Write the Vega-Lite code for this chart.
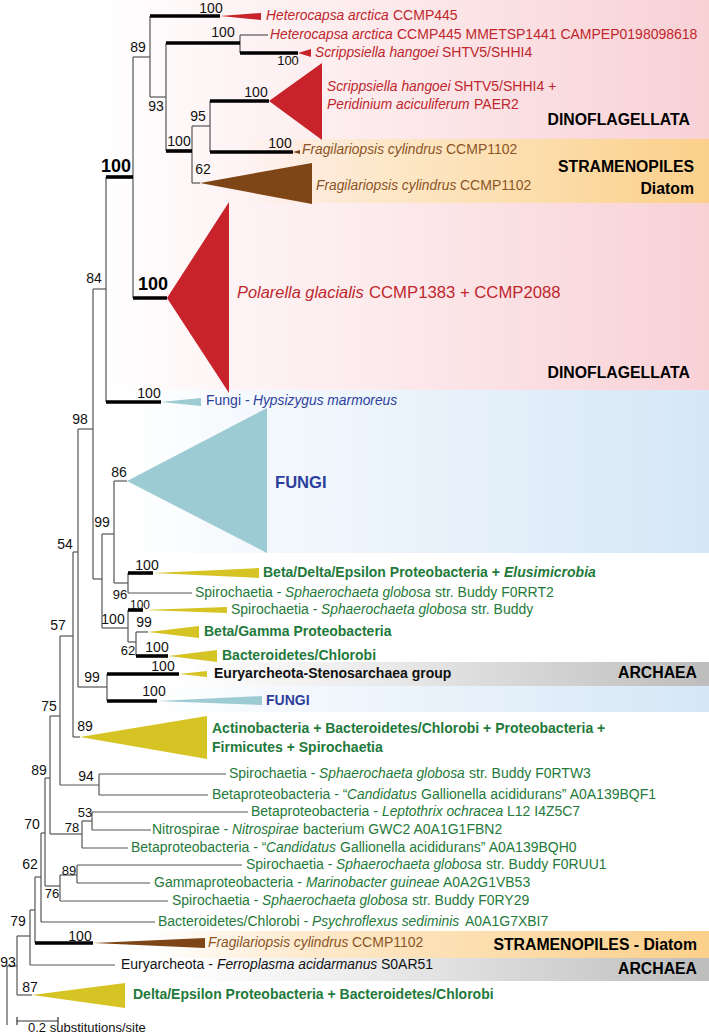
{
 "$schema": "https://vega.github.io/schema/vega-lite/v6.json",
 "width": 709, "height": 1036, "padding": 0, "autosize": {"type": "none"},
 "background": "white",
 "config": {"font": "Liberation Sans", "view": {"stroke": null}},
 "datasets": {
  "bands": [
   {"group": "dino", "x1": 100, "x2": 709, "y1": 0, "y2": 390},
   {"group": "diatom", "x1": 240, "x2": 709, "y1": 139, "y2": 203},
   {"group": "fungi", "x1": 120, "x2": 709, "y1": 390, "y2": 553},
   {"group": "archaea", "x1": 180, "x2": 709, "y1": 662, "y2": 686},
   {"group": "fungi", "x1": 150, "x2": 709, "y1": 686, "y2": 712},
   {"group": "diatom", "x1": 150, "x2": 709, "y1": 931, "y2": 958},
   {"group": "archaea", "x1": 180, "x2": 709, "y1": 958, "y2": 981}
  ],
  "branches": [
   {"x":150,"x2":220,"y":16,"y2":16,"strong":true},
   {"x":133,"x2":150,"y":57,"y2":57,"strong":false},
   {"x":150,"x2":166,"y":97,"y2":97,"strong":false},
   {"x":166,"x2":240,"y":43,"y2":43,"strong":true},
   {"x":240,"x2":268,"y":35,"y2":35,"strong":false},
   {"x":240,"x2":298,"y":53,"y2":53,"strong":true},
   {"x":166,"x2":192,"y":151,"y2":151,"strong":true},
   {"x":192,"x2":210,"y":126,"y2":126,"strong":false},
   {"x":210,"x2":269,"y":101,"y2":101,"strong":true},
   {"x":210,"x2":293,"y":152,"y2":152,"strong":true},
   {"x":192,"x2":200,"y":183,"y2":183,"strong":false},
   {"x":106,"x2":133,"y":177,"y2":177,"strong":true},
   {"x":133,"x2":167,"y":298,"y2":298,"strong":true},
   {"x":93,"x2":106,"y":289,"y2":289,"strong":false},
   {"x":106,"x2":161,"y":402,"y2":402,"strong":true},
   {"x":78,"x2":93,"y":429,"y2":429,"strong":false},
   {"x":114,"x2":127,"y":481,"y2":481,"strong":false},
   {"x":102,"x2":114,"y":534,"y2":534,"strong":false},
   {"x":93,"x2":102,"y":579,"y2":579,"strong":false},
   {"x":114,"x2":128,"y":583,"y2":583,"strong":false},
   {"x":128,"x2":153,"y":573,"y2":573,"strong":true},
   {"x":128,"x2":192,"y":593,"y2":593,"strong":false},
   {"x":102,"x2":128,"y":628,"y2":628,"strong":false},
   {"x":128,"x2":143,"y":610,"y2":610,"strong":true},
   {"x":128,"x2":136,"y":642,"y2":642,"strong":false},
   {"x":136,"x2":148,"y":632,"y2":632,"strong":false},
   {"x":136,"x2":168,"y":656,"y2":656,"strong":true},
   {"x":73,"x2":78,"y":552,"y2":552,"strong":false},
   {"x":78,"x2":107,"y":687,"y2":687,"strong":false},
   {"x":107,"x2":179,"y":674,"y2":674,"strong":true},
   {"x":107,"x2":157,"y":701,"y2":701,"strong":true},
   {"x":73,"x2":80,"y":737,"y2":737,"strong":false},
   {"x":60,"x2":73,"y":636,"y2":636,"strong":false},
   {"x":50,"x2":60,"y":716,"y2":716,"strong":false},
   {"x":60,"x2":99,"y":785,"y2":785,"strong":false},
   {"x":99,"x2":226,"y":774,"y2":774,"strong":false},
   {"x":99,"x2":208,"y":795,"y2":795,"strong":false},
   {"x":45,"x2":50,"y":778,"y2":778,"strong":false},
   {"x":50,"x2":82,"y":834,"y2":834,"strong":false},
   {"x":82,"x2":92,"y":821,"y2":821,"strong":false},
   {"x":92,"x2":248,"y":812,"y2":812,"strong":false},
   {"x":92,"x2":151,"y":830,"y2":830,"strong":false},
   {"x":82,"x2":128,"y":848,"y2":848,"strong":false},
   {"x":41,"x2":45,"y":833,"y2":833,"strong":false},
   {"x":41,"x2":155,"y":922,"y2":922,"strong":false},
   {"x":45,"x2":60,"y":886,"y2":886,"strong":false},
   {"x":60,"x2":77,"y":875,"y2":875,"strong":false},
   {"x":77,"x2":242,"y":865,"y2":865,"strong":false},
   {"x":77,"x2":150,"y":883,"y2":883,"strong":false},
   {"x":60,"x2":168,"y":901,"y2":901,"strong":false},
   {"x":35,"x2":41,"y":877,"y2":877,"strong":false},
   {"x":35,"x2":93,"y":943,"y2":943,"strong":true},
   {"x":30,"x2":35,"y":910,"y2":910,"strong":false},
   {"x":30,"x2":115,"y":965,"y2":965,"strong":false},
   {"x":17,"x2":30,"y":936,"y2":936,"strong":false},
   {"x":17,"x2":32,"y":995,"y2":995,"strong":false},
   {"x":7,"x2":17,"y":966,"y2":966,"strong":false},
   {"x":150,"x2":150,"y":16,"y2":97,"strong":false},
   {"x":166,"x2":166,"y":43,"y2":151,"strong":false},
   {"x":240,"x2":240,"y":35,"y2":53,"strong":false},
   {"x":192,"x2":192,"y":126,"y2":183,"strong":false},
   {"x":210,"x2":210,"y":101,"y2":152,"strong":false},
   {"x":133,"x2":133,"y":57,"y2":298,"strong":false},
   {"x":106,"x2":106,"y":177,"y2":402,"strong":false},
   {"x":93,"x2":93,"y":289,"y2":579,"strong":false},
   {"x":102,"x2":102,"y":534,"y2":628,"strong":false},
   {"x":114,"x2":114,"y":481,"y2":583,"strong":false},
   {"x":128,"x2":128,"y":573,"y2":593,"strong":false},
   {"x":128,"x2":128,"y":610,"y2":642,"strong":false},
   {"x":136,"x2":136,"y":632,"y2":656,"strong":false},
   {"x":78,"x2":78,"y":429,"y2":687,"strong":false},
   {"x":107,"x2":107,"y":674,"y2":701,"strong":false},
   {"x":73,"x2":73,"y":552,"y2":737,"strong":false},
   {"x":60,"x2":60,"y":636,"y2":785,"strong":false},
   {"x":99,"x2":99,"y":774,"y2":795,"strong":false},
   {"x":50,"x2":50,"y":716,"y2":834,"strong":false},
   {"x":82,"x2":82,"y":821,"y2":848,"strong":false},
   {"x":92,"x2":92,"y":812,"y2":830,"strong":false},
   {"x":45,"x2":45,"y":778,"y2":886,"strong":false},
   {"x":41,"x2":41,"y":833,"y2":922,"strong":false},
   {"x":60,"x2":60,"y":875,"y2":901,"strong":false},
   {"x":77,"x2":77,"y":865,"y2":883,"strong":false},
   {"x":35,"x2":35,"y":877,"y2":943,"strong":false},
   {"x":30,"x2":30,"y":910,"y2":965,"strong":false},
   {"x":17,"x2":17,"y":936,"y2":995,"strong":false},
   {"x":7,"x2":7,"y":966,"y2":1025,"strong":false}
  ],
  "clades": [
   {"clade":"Heterocapsa","kingdom":"dino","x":220,"ya":16,"yb":16},{"clade":"Heterocapsa","kingdom":"dino","x":261,"ya":13,"yb":20},
   {"clade":"Scripp1","kingdom":"dino","x":298,"ya":53,"yb":53},{"clade":"Scripp1","kingdom":"dino","x":311,"ya":49,"yb":57},
   {"clade":"ScrippPerid","kingdom":"dino","x":269,"ya":101,"yb":101},{"clade":"ScrippPerid","kingdom":"dino","x":322,"ya":63,"yb":140},
   {"clade":"Frag1","kingdom":"diatom","x":293,"ya":152,"yb":152},{"clade":"Frag1","kingdom":"diatom","x":300,"ya":150,"yb":154},
   {"clade":"Frag2","kingdom":"diatom","x":200,"ya":183,"yb":183},{"clade":"Frag2","kingdom":"diatom","x":312,"ya":163,"yb":204},
   {"clade":"Polarella","kingdom":"dino","x":167,"ya":298,"yb":298},{"clade":"Polarella","kingdom":"dino","x":229,"ya":202,"yb":393},
   {"clade":"Hypsizygus","kingdom":"fungi","x":161,"ya":402,"yb":402},{"clade":"Hypsizygus","kingdom":"fungi","x":201,"ya":398,"yb":406},
   {"clade":"Fungi","kingdom":"fungi","x":127,"ya":481,"yb":481},{"clade":"Fungi","kingdom":"fungi","x":267,"ya":408,"yb":553},
   {"clade":"BetaDelta","kingdom":"prokaryote","x":153,"ya":573,"yb":573},{"clade":"BetaDelta","kingdom":"prokaryote","x":259,"ya":568,"yb":578},
   {"clade":"SpiroBuddy","kingdom":"prokaryote","x":143,"ya":610,"yb":610},{"clade":"SpiroBuddy","kingdom":"prokaryote","x":227,"ya":607,"yb":613},
   {"clade":"BetaGamma","kingdom":"prokaryote","x":148,"ya":632,"yb":632},{"clade":"BetaGamma","kingdom":"prokaryote","x":199,"ya":626,"yb":638},
   {"clade":"Bacteroidetes","kingdom":"prokaryote","x":168,"ya":656,"yb":656},{"clade":"Bacteroidetes","kingdom":"prokaryote","x":217,"ya":650,"yb":662},
   {"clade":"EuryStenos","kingdom":"prokaryote","x":179,"ya":674,"yb":674},{"clade":"EuryStenos","kingdom":"prokaryote","x":207,"ya":671,"yb":677},
   {"clade":"Fungi2","kingdom":"fungi","x":157,"ya":701,"yb":701},{"clade":"Fungi2","kingdom":"fungi","x":262,"ya":696,"yb":705},
   {"clade":"Actino","kingdom":"prokaryote","x":80,"ya":737,"yb":737},{"clade":"Actino","kingdom":"prokaryote","x":207,"ya":716,"yb":759},
   {"clade":"Frag3","kingdom":"diatom","x":93,"ya":943,"yb":943},{"clade":"Frag3","kingdom":"diatom","x":205,"ya":938,"yb":948},
   {"clade":"DeltaEps","kingdom":"prokaryote","x":32,"ya":995,"yb":995},{"clade":"DeltaEps","kingdom":"prokaryote","x":125,"ya":983,"yb":1008}
  ],
  "labels": [
   {"x":266,"y":16,"text":"Heterocapsa arctica","group":"dino","style":"italic","emph":"tip"},
   {"x":393,"y":16,"text":"CCMP445","group":"dino","style":"plain","emph":"tip"},
   {"x":270,"y":35,"text":"Heterocapsa arctica","group":"dino","style":"italic","emph":"tip"},
   {"x":397,"y":35,"text":"CCMP445 MMETSP1441 CAMPEP0198098618","group":"dino","style":"plain","emph":"tip"},
   {"x":315,"y":53,"text":"Scrippsiella hangoei","group":"dino","style":"italic","emph":"tip"},
   {"x":442,"y":53,"text":"SHTV5/SHHI4","group":"dino","style":"plain","emph":"tip"},
   {"x":327,"y":87,"text":"Scrippsiella hangoei","group":"dino","style":"italic","emph":"tip"},
   {"x":454,"y":87,"text":"SHTV5/SHHI4 +","group":"dino","style":"plain","emph":"tip"},
   {"x":327,"y":105,"text":"Peridinium aciculiferum","group":"dino","style":"italic","emph":"tip"},
   {"x":474,"y":105,"text":"PAER2","group":"dino","style":"plain","emph":"tip"},
   {"x":302,"y":150,"text":"Fragilariopsis cylindrus","group":"diatom","style":"italic","emph":"tip"},
   {"x":446,"y":150,"text":"CCMP1102","group":"diatom","style":"plain","emph":"tip"},
   {"x":316,"y":186,"text":"Fragilariopsis cylindrus","group":"diatom","style":"italic","emph":"tip"},
   {"x":460,"y":186,"text":"CCMP1102","group":"diatom","style":"plain","emph":"tip"},
   {"x":237,"y":293,"text":"Polarella glacialis","group":"dino","style":"italic","emph":"big"},
   {"x":369,"y":293,"text":"CCMP1383 + CCMP2088","group":"dino","style":"plain","emph":"big"},
   {"x":206,"y":401,"text":"Fungi -","group":"fungi","style":"plain","emph":"tip"},
   {"x":253,"y":401,"text":"Hypsizygus marmoreus","group":"fungi","style":"italic","emph":"tip"},
   {"x":275,"y":483,"text":"FUNGI","group":"fungi","style":"bold","emph":"big"},
   {"x":263,"y":573,"text":"Beta/Delta/Epsilon Proteobacteria +","group":"bacteria","style":"bold","emph":"tip"},
   {"x":504,"y":573,"text":"Elusimicrobia","group":"bacteria","style":"bolditalic","emph":"tip"},
   {"x":195,"y":593,"text":"Spirochaetia -","group":"bacteria","style":"plain","emph":"tip"},
   {"x":285,"y":593,"text":"Sphaerochaeta globosa","group":"bacteria","style":"italic","emph":"tip"},
   {"x":435,"y":593,"text":"str. Buddy F0RRT2","group":"bacteria","style":"plain","emph":"tip"},
   {"x":231,"y":610,"text":"Spirochaetia -","group":"bacteria","style":"plain","emph":"tip"},
   {"x":321,"y":610,"text":"Sphaerochaeta globosa","group":"bacteria","style":"italic","emph":"tip"},
   {"x":471,"y":610,"text":"str. Buddy","group":"bacteria","style":"plain","emph":"tip"},
   {"x":204,"y":632,"text":"Beta/Gamma Proteobacteria","group":"bacteria","style":"bold","emph":"tip"},
   {"x":222,"y":656,"text":"Bacteroidetes/Chlorobi","group":"bacteria","style":"bold","emph":"tip"},
   {"x":214,"y":674,"text":"Euryarcheota-Stenosarchaea group","group":"archaea","style":"bold","emph":"tip"},
   {"x":266,"y":701,"text":"FUNGI","group":"fungi","style":"bold","emph":"tip"},
   {"x":212,"y":729,"text":"Actinobacteria + Bacteroidetes/Chlorobi + Proteobacteria +","group":"bacteria","style":"bold","emph":"tip"},
   {"x":212,"y":748,"text":"Firmicutes + Spirochaetia","group":"bacteria","style":"bold","emph":"tip"},
   {"x":229,"y":774,"text":"Spirochaetia -","group":"bacteria","style":"plain","emph":"tip"},
   {"x":319,"y":774,"text":"Sphaerochaeta globosa","group":"bacteria","style":"italic","emph":"tip"},
   {"x":469,"y":774,"text":"str. Buddy F0RTW3","group":"bacteria","style":"plain","emph":"tip"},
   {"x":212,"y":795,"text":"Betaproteobacteria - “","group":"bacteria","style":"plain","emph":"tip"},
   {"x":347,"y":795,"text":"Candidatus","group":"bacteria","style":"italic","emph":"tip"},
   {"x":421,"y":795,"text":"Gallionella acididurans” A0A139BQF1","group":"bacteria","style":"plain","emph":"tip"},
   {"x":251,"y":812,"text":"Betaproteobacteria -","group":"bacteria","style":"plain","emph":"tip"},
   {"x":382,"y":812,"text":"Leptothrix ochracea","group":"bacteria","style":"italic","emph":"tip"},
   {"x":507,"y":812,"text":"L12 I4Z5C7","group":"bacteria","style":"plain","emph":"tip"},
   {"x":152,"y":830,"text":"Nitrospirae -","group":"bacteria","style":"plain","emph":"tip"},
   {"x":232,"y":830,"text":"Nitrospirae","group":"bacteria","style":"italic","emph":"tip"},
   {"x":303,"y":830,"text":"bacterium GWC2 A0A1G1FBN2","group":"bacteria","style":"plain","emph":"tip"},
   {"x":131,"y":848,"text":"Betaproteobacteria - “","group":"bacteria","style":"plain","emph":"tip"},
   {"x":266,"y":848,"text":"Candidatus","group":"bacteria","style":"italic","emph":"tip"},
   {"x":340,"y":848,"text":"Gallionella acididurans” A0A139BQH0","group":"bacteria","style":"plain","emph":"tip"},
   {"x":246,"y":865,"text":"Spirochaetia -","group":"bacteria","style":"plain","emph":"tip"},
   {"x":336,"y":865,"text":"Sphaerochaeta globosa","group":"bacteria","style":"italic","emph":"tip"},
   {"x":486,"y":865,"text":"str. Buddy F0RUU1","group":"bacteria","style":"plain","emph":"tip"},
   {"x":154,"y":883,"text":"Gammaproteobacteria -","group":"bacteria","style":"plain","emph":"tip"},
   {"x":306,"y":883,"text":"Marinobacter guineae","group":"bacteria","style":"italic","emph":"tip"},
   {"x":443,"y":883,"text":"A0A2G1VB53","group":"bacteria","style":"plain","emph":"tip"},
   {"x":172,"y":901,"text":"Spirochaetia -","group":"bacteria","style":"plain","emph":"tip"},
   {"x":262,"y":901,"text":"Sphaerochaeta globosa","group":"bacteria","style":"italic","emph":"tip"},
   {"x":412,"y":901,"text":"str. Buddy F0RY29","group":"bacteria","style":"plain","emph":"tip"},
   {"x":158,"y":922,"text":"Bacteroidetes/Chlorobi -","group":"bacteria","style":"plain","emph":"tip"},
   {"x":312,"y":922,"text":"Psychroflexus sediminis","group":"bacteria","style":"italic","emph":"tip"},
   {"x":465,"y":922,"text":"A0A1G7XBI7","group":"bacteria","style":"plain","emph":"tip"},
   {"x":208,"y":943,"text":"Fragilariopsis cylindrus","group":"diatom","style":"italic","emph":"tip"},
   {"x":352,"y":943,"text":"CCMP1102","group":"diatom","style":"plain","emph":"tip"},
   {"x":121,"y":965,"text":"Euryarcheota -","group":"archaea","style":"plain","emph":"tip"},
   {"x":217,"y":965,"text":"Ferroplasma acidarmanus","group":"archaea","style":"italic","emph":"tip"},
   {"x":381,"y":965,"text":"S0AR51","group":"archaea","style":"plain","emph":"tip"},
   {"x":133,"y":995,"text":"Delta/Epsilon Proteobacteria + Bacteroidetes/Chlorobi","group":"bacteria","style":"bold","emph":"tip"}
  ],
  "support": [
   {"x":211,"y":9,"value":"100","cls":"n"},
   {"x":223,"y":33,"value":"100","cls":"n"},
   {"x":288,"y":61,"value":"100","cls":"s"},
   {"x":138,"y":48,"value":"89","cls":"n"},
   {"x":156,"y":107,"value":"93","cls":"n"},
   {"x":256,"y":93,"value":"100","cls":"n"},
   {"x":198,"y":117,"value":"95","cls":"n"},
   {"x":179,"y":142,"value":"100","cls":"n"},
   {"x":280,"y":144,"value":"100","cls":"n"},
   {"x":203,"y":170,"value":"62","cls":"n"},
   {"x":116,"y":167,"value":"100","cls":"b"},
   {"x":94,"y":279,"value":"84","cls":"n"},
   {"x":153,"y":285,"value":"100","cls":"b"},
   {"x":149,"y":394,"value":"100","cls":"n"},
   {"x":80,"y":420,"value":"98","cls":"n"},
   {"x":119,"y":473,"value":"86","cls":"n"},
   {"x":102,"y":523,"value":"99","cls":"n"},
   {"x":65,"y":545,"value":"54","cls":"n"},
   {"x":147,"y":566,"value":"100","cls":"n"},
   {"x":120,"y":595,"value":"96","cls":"s"},
   {"x":140,"y":605,"value":"100","cls":"t"},
   {"x":113,"y":620,"value":"100","cls":"n"},
   {"x":144,"y":623,"value":"99","cls":"n"},
   {"x":128,"y":651,"value":"62","cls":"s"},
   {"x":157,"y":648,"value":"100","cls":"n"},
   {"x":58,"y":626,"value":"57","cls":"n"},
   {"x":92,"y":678,"value":"99","cls":"n"},
   {"x":163,"y":667,"value":"100","cls":"n"},
   {"x":154,"y":692,"value":"100","cls":"n"},
   {"x":85,"y":727,"value":"89","cls":"n"},
   {"x":49,"y":707,"value":"75","cls":"n"},
   {"x":86,"y":777,"value":"94","cls":"n"},
   {"x":39,"y":771,"value":"89","cls":"n"},
   {"x":85,"y":813,"value":"53","cls":"s"},
   {"x":72,"y":828,"value":"78","cls":"s"},
   {"x":32,"y":825,"value":"70","cls":"n"},
   {"x":69,"y":871,"value":"89","cls":"s"},
   {"x":52,"y":894,"value":"76","cls":"s"},
   {"x":30,"y":865,"value":"62","cls":"n"},
   {"x":18,"y":922,"value":"79","cls":"n"},
   {"x":80,"y":937,"value":"100","cls":"n"},
   {"x":8,"y":963,"value":"93","cls":"n"},
   {"x":30,"y":988,"value":"87","cls":"n"}
  ],
  "headers": [
   {"x":690,"y":120,"text":"DINOFLAGELLATA"},
   {"x":694,"y":167,"text":"STRAMENOPILES"},
   {"x":694,"y":189,"text":"Diatom"},
   {"x":690,"y":373,"text":"DINOFLAGELLATA"},
   {"x":697,"y":673,"text":"ARCHAEA"},
   {"x":697,"y":945,"text":"STRAMENOPILES - Diatom"},
   {"x":697,"y":969,"text":"ARCHAEA"}
  ],
  "scalebar": [
   {"x":17,"x2":58,"y":1021,"y2":1021},
   {"x":17,"x2":17,"y":1017,"y2":1025},
   {"x":58,"x2":58,"y":1017,"y2":1025}
  ],
  "scaletext": [
   {"x":28,"y":1028,"text":"0.2 substitutions/site"}
  ]
 },
 "layer": [
  {"data":{"name":"bands"},"transform":[{"filter":"datum.group==='dino'"}],
   "mark":{"type":"rect","fill":{"gradient":"linear","x1":0,"y1":0,"x2":1,"y2":0,"stops":[{"offset":0,"color":"rgba(252,232,235,0)"},{"offset":0.4,"color":"#fdedef"},{"offset":1,"color":"#f8d1d5"}]}},
   "encoding":{"x":{"field":"x1","type":"quantitative","scale":{"domain":[0,709],"nice":false,"zero":false},"axis":null},"x2":{"field":"x2"},
     "y":{"field":"y1","type":"quantitative","scale":{"domain":[0,1036],"nice":false,"zero":false,"reverse":true},"axis":null},"y2":{"field":"y2"}}},
  {"data":{"name":"bands"},"transform":[{"filter":"datum.group==='fungi'"}],
   "mark":{"type":"rect","fill":{"gradient":"linear","x1":0,"y1":0,"x2":1,"y2":0,"stops":[{"offset":0,"color":"rgba(235,243,251,0)"},{"offset":0.4,"color":"#eef5fc"},{"offset":1,"color":"#d5e7f6"}]}},
   "encoding":{"x":{"field":"x1","type":"quantitative","scale":{"domain":[0,709],"nice":false,"zero":false},"axis":null},"x2":{"field":"x2"},
     "y":{"field":"y1","type":"quantitative","scale":{"domain":[0,1036],"nice":false,"zero":false,"reverse":true},"axis":null},"y2":{"field":"y2"}}},
  {"data":{"name":"bands"},"transform":[{"filter":"datum.group==='diatom'"}],
   "mark":{"type":"rect","fill":{"gradient":"linear","x1":0,"y1":0,"x2":1,"y2":0,"stops":[{"offset":0,"color":"rgba(253,233,205,0)"},{"offset":0.3,"color":"#fde8c9"},{"offset":1,"color":"#fbd08a"}]}},
   "encoding":{"x":{"field":"x1","type":"quantitative","scale":{"domain":[0,709],"nice":false,"zero":false},"axis":null},"x2":{"field":"x2"},
     "y":{"field":"y1","type":"quantitative","scale":{"domain":[0,1036],"nice":false,"zero":false,"reverse":true},"axis":null},"y2":{"field":"y2"}}},
  {"data":{"name":"bands"},"transform":[{"filter":"datum.group==='archaea'"}],
   "mark":{"type":"rect","fill":{"gradient":"linear","x1":0,"y1":0,"x2":1,"y2":0,"stops":[{"offset":0,"color":"rgba(235,235,235,0)"},{"offset":0.35,"color":"#ececec"},{"offset":1,"color":"#bdbdbd"}]}},
   "encoding":{"x":{"field":"x1","type":"quantitative","scale":{"domain":[0,709],"nice":false,"zero":false},"axis":null},"x2":{"field":"x2"},
     "y":{"field":"y1","type":"quantitative","scale":{"domain":[0,1036],"nice":false,"zero":false,"reverse":true},"axis":null},"y2":{"field":"y2"}}},
  {"data":{"name":"clades"},
   "mark":{"type":"area","opacity":1,"strokeWidth":0,"interpolate":"linear"},
   "encoding":{"x":{"field":"x","type":"quantitative","scale":{"domain":[0,709],"nice":false,"zero":false},"axis":null},
     "y":{"field":"ya","type":"quantitative","stack":null,"scale":{"domain":[0,1036],"nice":false,"zero":false,"reverse":true},"axis":null},"y2":{"field":"yb"},
     "detail":{"field":"clade"},
     "color":{"field":"kingdom","type":"nominal","scale":{"domain":["dino","diatom","fungi","prokaryote"],"range":["#c8232b","#7e4516","#9dcbd3","#d6c424"]},"legend":null}}},
  {"data":{"name":"branches"},"transform":[{"filter":"!datum.strong"}],
   "mark":{"type":"rule","color":"#555555","strokeWidth":1.2},
   "encoding":{"x":{"field":"x","type":"quantitative","scale":{"domain":[0,709],"nice":false,"zero":false},"axis":null},"x2":{"field":"x2"},
     "y":{"field":"y","type":"quantitative","scale":{"domain":[0,1036],"nice":false,"zero":false,"reverse":true},"axis":null},"y2":{"field":"y2"}}},
  {"data":{"name":"branches"},"transform":[{"filter":"datum.strong"}],
   "mark":{"type":"rule","color":"#000000","strokeWidth":3.6},
   "encoding":{"x":{"field":"x","type":"quantitative","scale":{"domain":[0,709],"nice":false,"zero":false},"axis":null},"x2":{"field":"x2"},
     "y":{"field":"y","type":"quantitative","scale":{"domain":[0,1036],"nice":false,"zero":false,"reverse":true},"axis":null},"y2":{"field":"y2"}}},
  {"data":{"name":"labels"},"transform":[{"filter":"datum.style==='plain'"}],
   "mark":{"type":"text","align":"left","baseline":"middle"},
   "encoding":{"x":{"field":"x","type":"quantitative","scale":{"domain":[0,709],"nice":false,"zero":false},"axis":null},
     "y":{"field":"y","type":"quantitative","scale":{"domain":[0,1036],"nice":false,"zero":false,"reverse":true},"axis":null},
     "text":{"field":"text"},
     "color":{"field":"group","type":"nominal","scale":{"domain":["dino","diatom","fungi","bacteria","archaea"],"range":["#bf272d","#8c5526","#2c3f9c","#1f7a3b","#111111"]},"legend":null},
     "size":{"field":"emph","type":"ordinal","scale":{"domain":["tip","big"],"range":[14,16.7]},"legend":null}}},
  {"data":{"name":"labels"},"transform":[{"filter":"datum.style==='italic'"}],
   "mark":{"type":"text","align":"left","baseline":"middle","fontStyle":"italic"},
   "encoding":{"x":{"field":"x","type":"quantitative","scale":{"domain":[0,709],"nice":false,"zero":false},"axis":null},
     "y":{"field":"y","type":"quantitative","scale":{"domain":[0,1036],"nice":false,"zero":false,"reverse":true},"axis":null},
     "text":{"field":"text"},
     "color":{"field":"group","type":"nominal","scale":{"domain":["dino","diatom","fungi","bacteria","archaea"],"range":["#bf272d","#8c5526","#2c3f9c","#1f7a3b","#111111"]},"legend":null},
     "size":{"field":"emph","type":"ordinal","scale":{"domain":["tip","big"],"range":[13.8,16.4]},"legend":null}}},
  {"data":{"name":"labels"},"transform":[{"filter":"datum.style==='bold'"}],
   "mark":{"type":"text","align":"left","baseline":"middle","fontWeight":"bold"},
   "encoding":{"x":{"field":"x","type":"quantitative","scale":{"domain":[0,709],"nice":false,"zero":false},"axis":null},
     "y":{"field":"y","type":"quantitative","scale":{"domain":[0,1036],"nice":false,"zero":false,"reverse":true},"axis":null},
     "text":{"field":"text"},
     "color":{"field":"group","type":"nominal","scale":{"domain":["dino","diatom","fungi","bacteria","archaea"],"range":["#bf272d","#8c5526","#2c3f9c","#1f7a3b","#111111"]},"legend":null},
     "size":{"field":"emph","type":"ordinal","scale":{"domain":["tip","big"],"range":[14,16.6]},"legend":null}}},
  {"data":{"name":"labels"},"transform":[{"filter":"datum.style==='bolditalic'"}],
   "mark":{"type":"text","align":"left","baseline":"middle","fontWeight":"bold","fontStyle":"italic","fontSize":14},
   "encoding":{"x":{"field":"x","type":"quantitative","scale":{"domain":[0,709],"nice":false,"zero":false},"axis":null},
     "y":{"field":"y","type":"quantitative","scale":{"domain":[0,1036],"nice":false,"zero":false,"reverse":true},"axis":null},
     "text":{"field":"text"},
     "color":{"field":"group","type":"nominal","scale":{"domain":["dino","diatom","fungi","bacteria","archaea"],"range":["#bf272d","#8c5526","#2c3f9c","#1f7a3b","#111111"]},"legend":null}}},
  {"data":{"name":"support"},"transform":[{"filter":"datum.cls!=='b'"}],
   "mark":{"type":"text","align":"center","baseline":"middle","color":"#111111"},
   "encoding":{"x":{"field":"x","type":"quantitative","scale":{"domain":[0,709],"nice":false,"zero":false},"axis":null},
     "y":{"field":"y","type":"quantitative","scale":{"domain":[0,1036],"nice":false,"zero":false,"reverse":true},"axis":null},
     "text":{"field":"value"},
     "size":{"field":"cls","type":"ordinal","scale":{"domain":["n","s","t"],"range":[14,12,10.5]},"legend":null}}},
  {"data":{"name":"support"},"transform":[{"filter":"datum.cls==='b'"}],
   "mark":{"type":"text","align":"center","baseline":"middle","color":"#000000","fontWeight":"bold","fontSize":18},
   "encoding":{"x":{"field":"x","type":"quantitative","scale":{"domain":[0,709],"nice":false,"zero":false},"axis":null},
     "y":{"field":"y","type":"quantitative","scale":{"domain":[0,1036],"nice":false,"zero":false,"reverse":true},"axis":null},
     "text":{"field":"value"}}},
  {"data":{"name":"headers"},
   "mark":{"type":"text","align":"right","baseline":"middle","color":"#000000","fontWeight":"bold","fontSize":15.8},
   "encoding":{"x":{"field":"x","type":"quantitative","scale":{"domain":[0,709],"nice":false,"zero":false},"axis":null},
     "y":{"field":"y","type":"quantitative","scale":{"domain":[0,1036],"nice":false,"zero":false,"reverse":true},"axis":null},
     "text":{"field":"text"}}},
  {"data":{"name":"scalebar"},
   "mark":{"type":"rule","color":"#333333","strokeWidth":1.2},
   "encoding":{"x":{"field":"x","type":"quantitative","scale":{"domain":[0,709],"nice":false,"zero":false},"axis":null},"x2":{"field":"x2"},
     "y":{"field":"y","type":"quantitative","scale":{"domain":[0,1036],"nice":false,"zero":false,"reverse":true},"axis":null},"y2":{"field":"y2"}}},
  {"data":{"name":"scaletext"},
   "mark":{"type":"text","align":"left","baseline":"middle","color":"#111111","fontSize":13},
   "encoding":{"x":{"field":"x","type":"quantitative","scale":{"domain":[0,709],"nice":false,"zero":false},"axis":null},
     "y":{"field":"y","type":"quantitative","scale":{"domain":[0,1036],"nice":false,"zero":false,"reverse":true},"axis":null},
     "text":{"field":"text"}}}
 ],
 "resolve": {"scale": {"color": "independent", "size": "independent"}}
}
